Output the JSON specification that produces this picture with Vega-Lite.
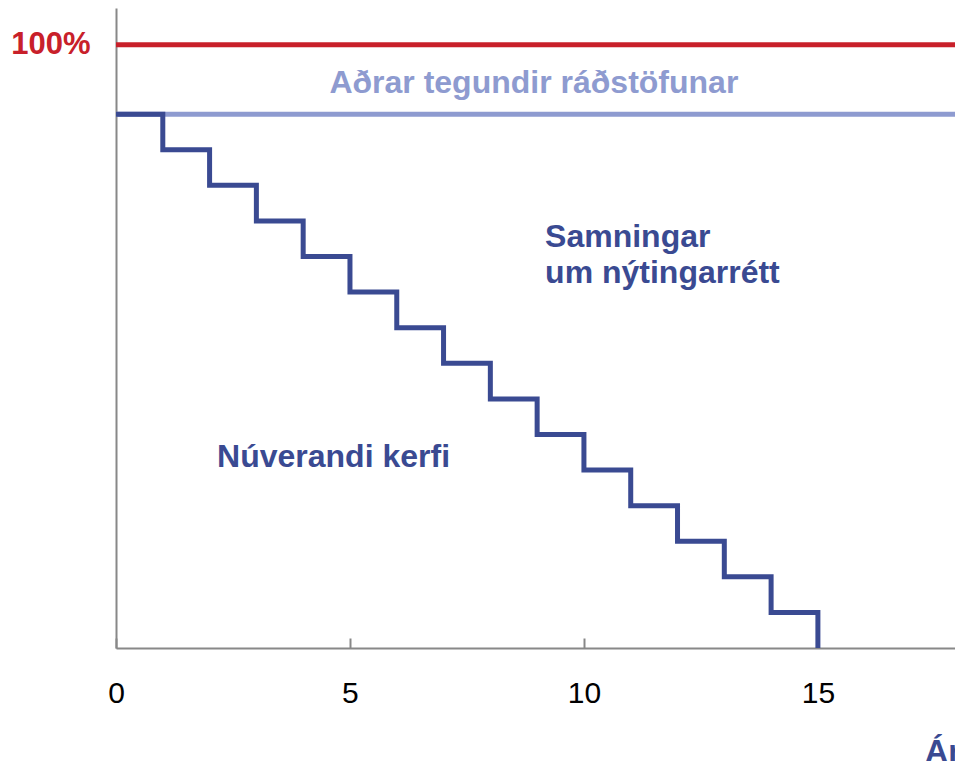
{
  "$schema": "https://vega.github.io/schema/vega-lite/v6.json",
  "width": 839,
  "height": 640,
  "autosize": {"type": "none"},
  "padding": {"left": 116, "top": 8, "right": 0, "bottom": 113},
  "config": {"view": {"stroke": null}, "font": "Liberation Sans"},
  "datasets": {
    "flat": [
      {"series": "Heild", "year": 0, "share": 100},
      {"series": "Heild", "year": 17.93, "share": 100},
      {"series": "Aðrar", "year": 0, "share": 88.5},
      {"series": "Aðrar", "year": 17.93, "share": 88.5}
    ],
    "steps": [
      {"year": 0, "share": 88.5},
      {"year": 1, "share": 82.6},
      {"year": 2, "share": 76.7},
      {"year": 3, "share": 70.8},
      {"year": 4, "share": 64.9},
      {"year": 5, "share": 59.0},
      {"year": 6, "share": 53.1},
      {"year": 7, "share": 47.2},
      {"year": 8, "share": 41.3},
      {"year": 9, "share": 35.4},
      {"year": 10, "share": 29.5},
      {"year": 11, "share": 23.6},
      {"year": 12, "share": 17.7},
      {"year": 13, "share": 11.8},
      {"year": 14, "share": 5.9},
      {"year": 15, "share": 0}
    ],
    "centerLabels": [
      {"group": "light", "year": 8.93, "share": 92.0, "label": "Aðrar tegundir ráðstöfunar"}
    ],
    "leftLabels": [
      {"group": "dark", "year": 9.17, "share": 66.5, "label": "Samningar"},
      {"group": "dark", "year": 9.17, "share": 60.5, "label": "um nýtingarrétt"},
      {"group": "dark", "year": 2.16, "share": 30.0, "label": "Núverandi kerfi"},
      {"group": "dark", "year": 17.29, "share": -18.9, "label": "Ár"}
    ]
  },
  "layer": [
    {
      "data": {"name": "flat"},
      "mark": {"type": "line", "strokeWidth": 5, "clip": false},
      "encoding": {
        "x": {
          "field": "year", "type": "quantitative",
          "scale": {"domain": [0, 17.93], "nice": false, "zero": true},
          "axis": {
            "values": [0, 5, 10, 15], "title": null, "grid": false,
            "domainColor": "#888888", "domainWidth": 2,
            "tickColor": "#888888", "tickWidth": 2, "tickSize": -10,
            "labelFontSize": 30, "labelColor": "#000000", "labelPadding": 40,
            "labelFlush": false, "labelFont": "Liberation Sans"
          }
        },
        "y": {
          "field": "share", "type": "quantitative",
          "scale": {"domain": [0, 106.1], "nice": false},
          "axis": {
            "values": [100], "labelExpr": "'100%'", "title": null, "grid": false,
            "ticks": false, "domainColor": "#888888", "domainWidth": 2,
            "labelFontSize": 31, "labelFontWeight": "bold", "labelColor": "#c8202a",
            "labelPadding": 26, "labelFont": "Liberation Sans"
          }
        },
        "color": {
          "field": "series", "type": "nominal",
          "scale": {"domain": ["Heild", "Aðrar"], "range": ["#c8202a", "#8e9bd0"]},
          "legend": null
        },
        "detail": {"field": "series"}
      }
    },
    {
      "data": {"name": "steps"},
      "mark": {"type": "line", "interpolate": "step-after", "strokeWidth": 5, "color": "#3a4a92"},
      "encoding": {
        "x": {"field": "year", "type": "quantitative"},
        "y": {"field": "share", "type": "quantitative"}
      }
    },
    {
      "data": {"name": "centerLabels"},
      "mark": {"type": "text", "fontSize": 32, "fontWeight": "bold", "baseline": "alphabetic", "align": "center", "font": "Liberation Sans", "color": "#8e9bd0"},
      "encoding": {
        "x": {"field": "year", "type": "quantitative"},
        "y": {"field": "share", "type": "quantitative"},
        "text": {"field": "label"}
      }
    },
    {
      "data": {"name": "leftLabels"},
      "mark": {"type": "text", "fontSize": 32, "fontWeight": "bold", "baseline": "alphabetic", "align": "left", "font": "Liberation Sans", "color": "#3a4a92"},
      "encoding": {
        "x": {"field": "year", "type": "quantitative"},
        "y": {"field": "share", "type": "quantitative"},
        "text": {"field": "label"}
      }
    }
  ]
}
